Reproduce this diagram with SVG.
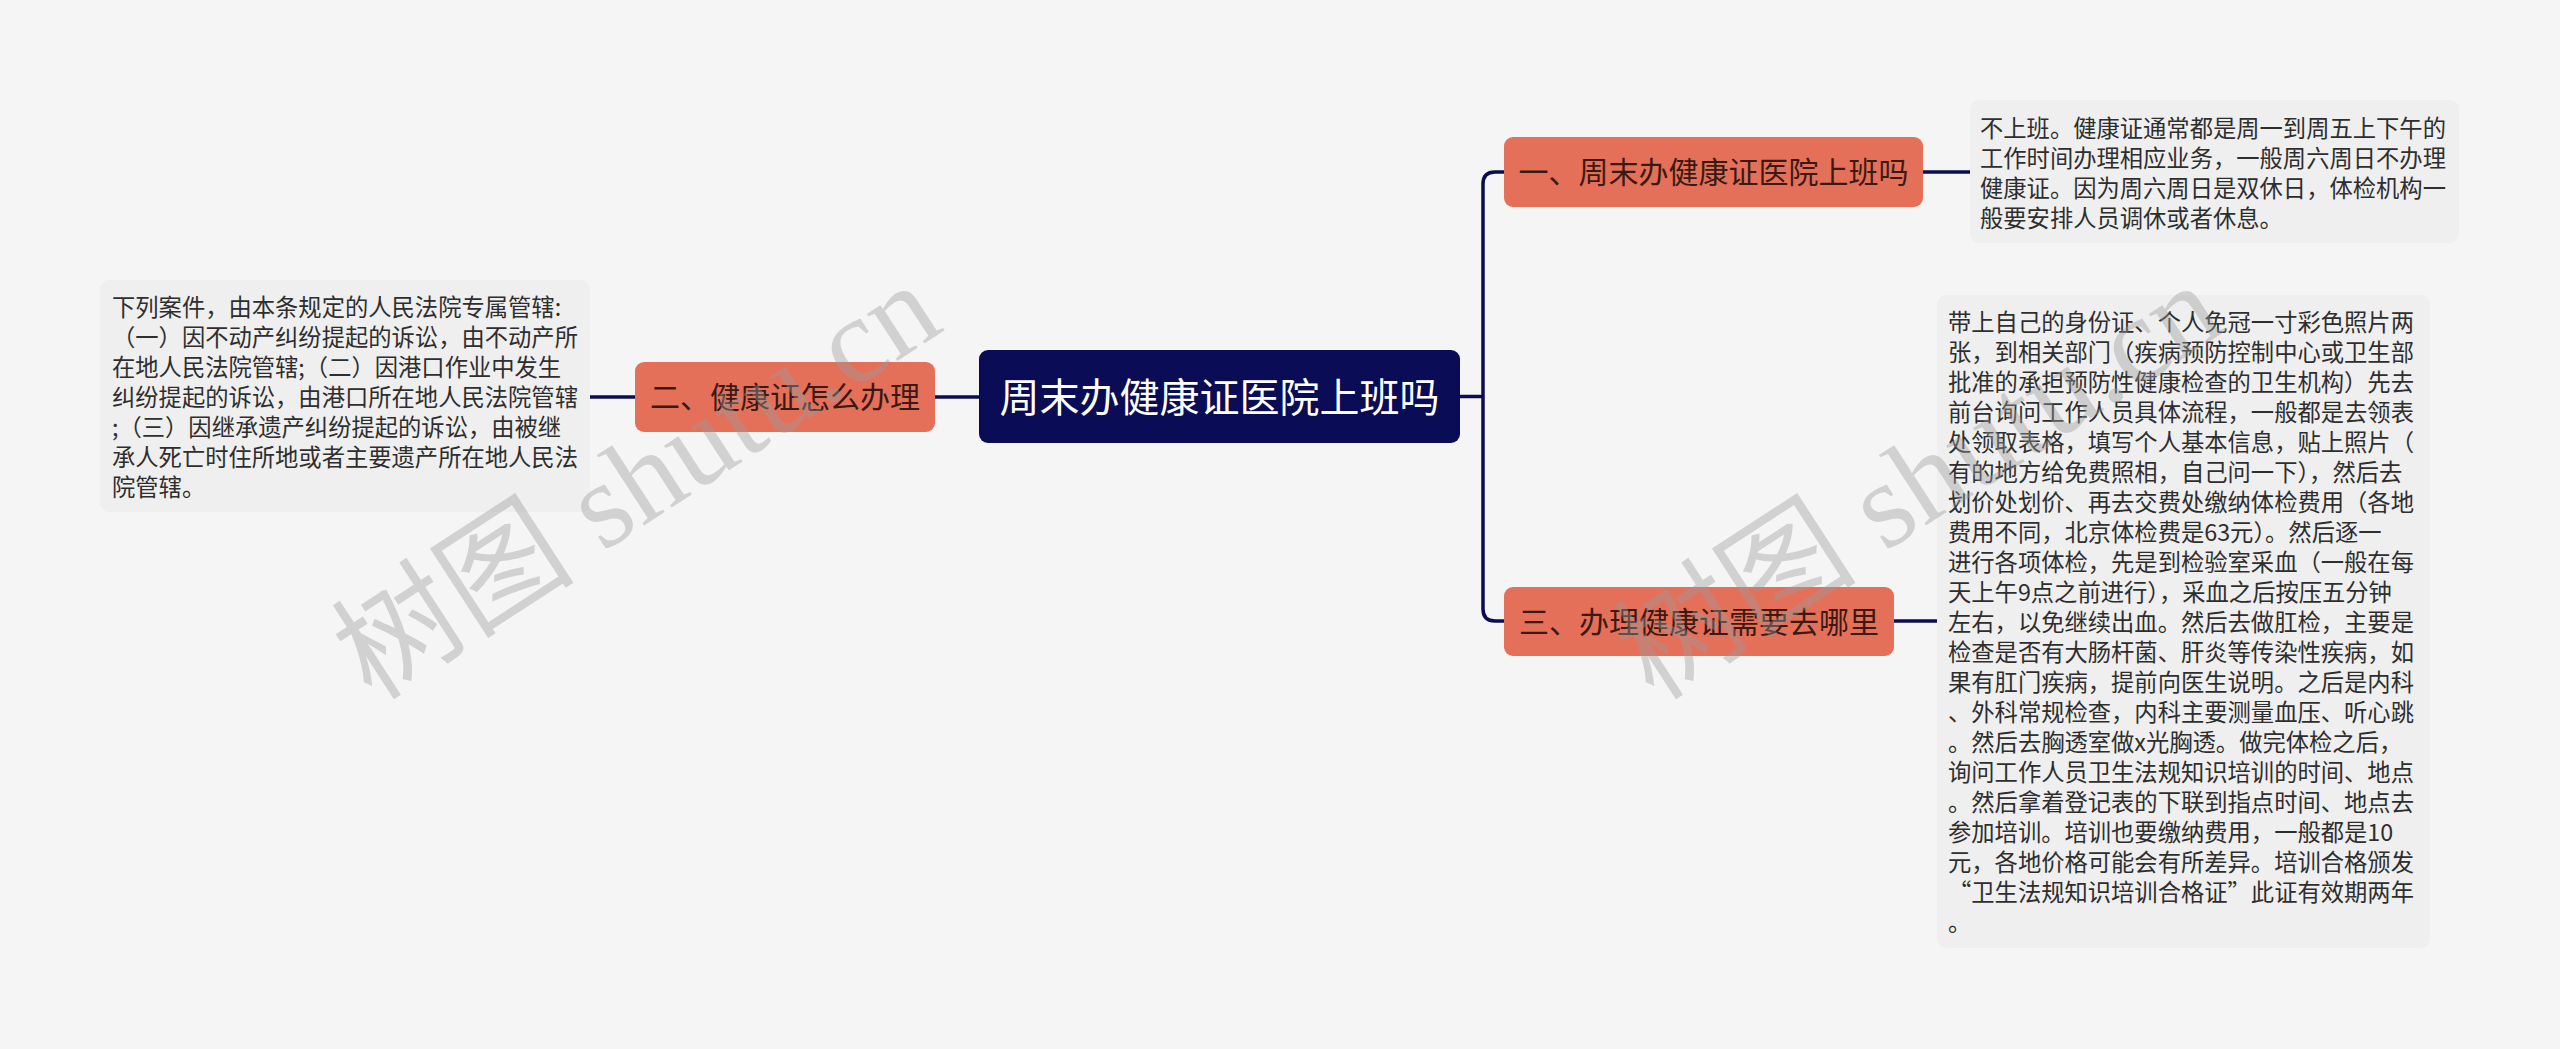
<svg xmlns="http://www.w3.org/2000/svg" width="2560" height="1049" viewBox="0 0 2560 1049">
<style>
.bg{fill:#f5f5f5}
.root rect{fill:#0a0c55}
.root text{fill:#ffffff;font-size:40px}
.main rect{fill:#e5705a}
.main text{fill:#3a1a12;font-size:30px}
.leaf rect{fill:#efefef}
.leaf text{fill:#2e2e2e;font-size:23.3px}
text{font-family:"Noto Sans CJK SC","Noto Sans",sans-serif}
.mid{text-anchor:middle}
.conn path{fill:none;stroke:#0b0d50;stroke-width:3.5}
.wm{font-family:"Liberation Serif","Noto Sans CJK SC",serif;font-size:122px;fill:#9a9a9a;fill-opacity:0.4}
</style>
<rect class="bg" x="0" y="0" width="2560" height="1049"/>
<g id="connectors" class="conn">
<path d="M590 397 H635"/>
<path d="M935 397 H979"/>
<path d="M1460 396.5 H1483"/>
<path d="M1504 172 H1495 Q1483 172 1483 184 V609 Q1483 621 1495 621 H1504"/>
<path d="M1923 172 H1970"/>
<path d="M1894 621 H1937"/>
</g>
<g id="root" class="root">
<rect x="979" y="350" width="481" height="93" rx="9"/>
<text class="mid" x="1219.5" y="411.5">周末办健康证医院上班吗</text>
</g>
<g id="node-2" class="main">
<rect x="635" y="362" width="300" height="70" rx="9"/>
<text class="mid" x="785" y="408">二、健康证怎么办理</text>
</g>
<g id="node-1" class="main">
<rect x="1504" y="137" width="419" height="70" rx="9"/>
<text class="mid" x="1713.5" y="183">一、周末办健康证医院上班吗</text>
</g>
<g id="node-3" class="main">
<rect x="1504" y="587" width="390" height="69" rx="9"/>
<text class="mid" x="1699" y="633">三、办理健康证需要去哪里</text>
</g>
<g id="leaf-2" class="leaf">
<rect x="100" y="280" width="490" height="232" rx="9"/>
<text x="112" y="316">下列案件，由本条规定的人民法院专属管辖:</text>
<text x="112" y="346">（一）因不动产纠纷提起的诉讼，由不动产所</text>
<text x="112" y="376">在地人民法院管辖;（二）因港口作业中发生</text>
<text x="112" y="406">纠纷提起的诉讼，由港口所在地人民法院管辖</text>
<text x="112" y="436">;（三）因继承遗产纠纷提起的诉讼，由被继</text>
<text x="112" y="466">承人死亡时住所地或者主要遗产所在地人民法</text>
<text x="112" y="496">院管辖。</text>
</g>
<g id="leaf-1" class="leaf">
<rect x="1970" y="100" width="489" height="143" rx="9"/>
<text x="1980" y="137">不上班。健康证通常都是周一到周五上下午的</text>
<text x="1980" y="167">工作时间办理相应业务，一般周六周日不办理</text>
<text x="1980" y="197">健康证。因为周六周日是双休日，体检机构一</text>
<text x="1980" y="227">般要安排人员调休或者休息。</text>
</g>
<g id="leaf-3" class="leaf">
<rect x="1937" y="295" width="493" height="653" rx="9"/>
<text x="1948" y="331">带上自己的身份证、个人免冠一寸彩色照片两</text>
<text x="1948" y="361">张，到相关部门（疾病预防控制中心或卫生部</text>
<text x="1948" y="391">批准的承担预防性健康检查的卫生机构）先去</text>
<text x="1948" y="421">前台询问工作人员具体流程，一般都是去领表</text>
<text x="1948" y="451">处领取表格，填写个人基本信息，贴上照片（</text>
<text x="1948" y="481">有的地方给免费照相，自己问一下），然后去</text>
<text x="1948" y="511">划价处划价、再去交费处缴纳体检费用（各地</text>
<text x="1948" y="541">费用不同，北京体检费是63元）。然后逐一</text>
<text x="1948" y="571">进行各项体检，先是到检验室采血（一般在每</text>
<text x="1948" y="601">天上午9点之前进行），采血之后按压五分钟</text>
<text x="1948" y="631">左右，以免继续出血。然后去做肛检，主要是</text>
<text x="1948" y="661">检查是否有大肠杆菌、肝炎等传染性疾病，如</text>
<text x="1948" y="691">果有肛门疾病，提前向医生说明。之后是内科</text>
<text x="1948" y="721">、外科常规检查，内科主要测量血压、听心跳</text>
<text x="1948" y="751">。然后去胸透室做x光胸透。做完体检之后，</text>
<text x="1948" y="781">询问工作人员卫生法规知识培训的时间、地点</text>
<text x="1948" y="811">。然后拿着登记表的下联到指点时间、地点去</text>
<text x="1948" y="841">参加培训。培训也要缴纳费用，一般都是10</text>
<text x="1948" y="871">元，各地价格可能会有所差异。培训合格颁发</text>
<text x="1948" y="901">“卫生法规知识培训合格证”此证有效期两年</text>
<text x="1948" y="931">。</text>
</g>
<g id="watermarks">
<text class="wm" x="372" y="702" transform="rotate(-33 372 702)">树图 shutu.cn</text>
<text class="wm" x="1654" y="702" transform="rotate(-33 1654 702)">树图 shutu.cn</text>
</g>
</svg>
